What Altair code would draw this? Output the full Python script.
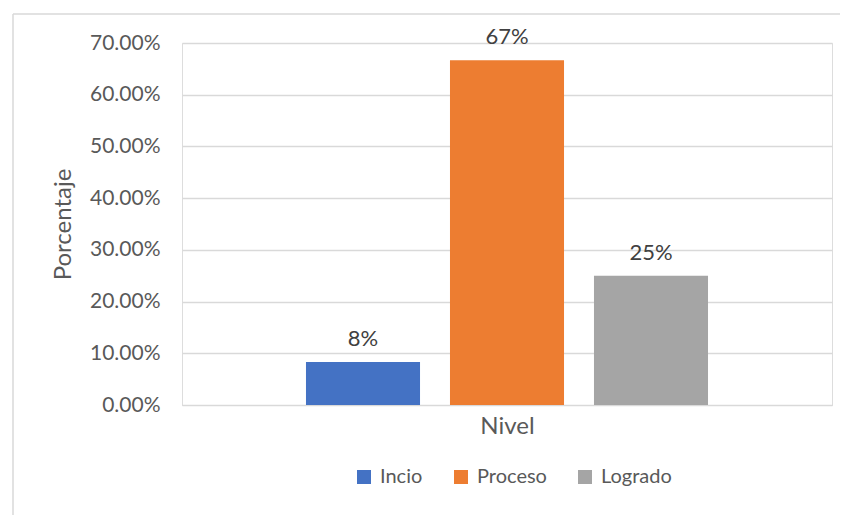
import altair as alt
import pandas as pd

categories = ["Nivel", "Nivel", "Nivel"]
series = ["Incio", "Proceso", "Logrado"]
values = [0.0833, 0.6667, 0.25]
value_labels = ["8%", "67%", "25%"]
colors = ["#4472C4", "#ED7D31", "#A5A5A5"]

df = pd.DataFrame({"cat": categories, "serie": series, "valor": values, "etiqueta": value_labels})

FONT = "Lato"
TXT = "#595959"

xenc = alt.X("serie:N", sort=series,
             scale=alt.Scale(paddingInner=0.208, paddingOuter=0.861),
             axis=alt.Axis(title="Nivel", labels=False, ticks=False, domain=True,
                           domainColor="#d9d9d9", titleFontSize=24, titleFontWeight="normal",
                           titleColor=TXT, titleFont=FONT, titlePadding=9))
yenc = alt.Y("valor:Q", scale=alt.Scale(domain=[0, 0.7]),
             axis=alt.Axis(format=".2%", values=[0, 0.1, 0.2, 0.3, 0.4, 0.5, 0.6, 0.7],
                           title="Porcentaje", domain=False, ticks=False, labelPadding=22,
                           gridColor="#d9d9d9", gridWidth=1.3, labelFontSize=21, labelColor=TXT,
                           labelFont=FONT, titleFont=FONT, titleFontSize=24, titleFontWeight="normal",
                           titleColor=TXT, titleX=-107, titleY=181, titleAngle=-90))

bars = alt.Chart(df).mark_bar().encode(
    x=xenc, y=yenc,
    color=alt.Color("serie:N", sort=series,
                    scale=alt.Scale(domain=series, range=colors),
                    legend=alt.Legend(title=None, orient="none", legendX=172, legendY=424,
                                      direction="horizontal", symbolType="square", symbolSize=196,
                                      symbolStrokeWidth=0, labelFontSize=20, labelColor=TXT,
                                      labelFont=FONT, columnPadding=28, labelOffset=6)))

text = alt.Chart(df).mark_text(baseline="alphabetic", dy=-16, fontSize=22, color="#404040", font=FONT).encode(
    x=alt.X("serie:N", sort=series), y="valor:Q", text="etiqueta:N")

frame = pd.DataFrame({"a": [0]})
left_edge = alt.Chart(frame).mark_rule(stroke="#d9d9d9", strokeWidth=1.5).encode(
    x=alt.value(-169), y=alt.value(-29), y2=alt.value(3000))
top_edge = alt.Chart(frame).mark_rule(stroke="#d9d9d9", strokeWidth=1.5).encode(
    x=alt.value(-169), x2=alt.value(3000), y=alt.value(-29))

chart = alt.layer(left_edge, top_edge, bars, text).properties(
    width=650, height=362,
    autosize=alt.AutoSizeParams(type="none"),
    padding={"left": 174, "top": 35, "right": 8, "bottom": 110},
).configure_view(stroke=None).configure(background="transparent")

chart.save("out.html", embed_options={"renderer": "svg", "actions": False})
